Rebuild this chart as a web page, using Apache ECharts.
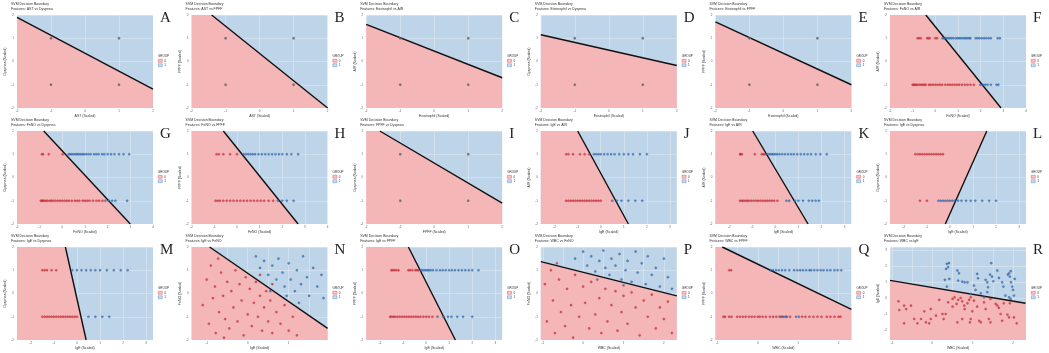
<!DOCTYPE html>
<html>
<head>
<meta charset="utf-8">
<script src="https://cdn.jsdelivr.net/npm/echarts@6/dist/echarts.min.js"></script>
<style>
  html, body { margin: 0; padding: 0; background: #fff; }
  #chart { width: 1049px; height: 353px; }
</style>
</head>
<body>
<div id="chart"></div>
<script>
// panel letters and feature pairs (x vs y)
const LETTERS = ['A','B','C','D','E','F','G','H','I','J','K','L','M','N','O','P','Q','R']
const X_FEATURES = ['AST','AST','Eosinophil','Eosinophil','Eosinophil','FeNO','FeNO','FeNO','FPFF','IgE','IgE','IgE','IgE','IgE','IgE','WBC','WBC','WBC']
const Y_FEATURES = ['Dyspnea','FPFF','AIR','Dyspnea','FPFF','AIR','Dyspnea','FPFF','Dyspnea','AIR','AIR','Dyspnea','Dyspnea','FeNO','FPFF','FeNO','FPFF','IgE']

// axis ranges + tick labels
const BIN_RANGE = [-2, 2]
const BIN_TICKS = [-2, -1, 0, 1, 2]
const FENO_RANGE = [-2, 4]
const FENO_TICKS = [-2, -1, 0, 1, 2, 3, 4]
const IGE_RANGE = [-2.6, 3.3]
const IGE_TICKS = [-2, -1, 0, 1, 2, 3]
const IGE_N_RANGE = [-1.37, 1.95]
const WBC_RANGE = [-1.05, 2.32]
const WBC_TICKS = [-1, 0, 1, 2]
const IGE_Y_RANGE = [-2.6, 3.2]

// binary x binary panels: same four points
const BIN_POINTS = [[-1, 1], [1, 1], [-1, -1], [1, -1]]

// decision boundary endpoints
const A_line = [[-2, 1.9], [2, -1.19]]
const B_line = [[-1.41, 2], [2, -2]]
const C_line = [[-2, 1.6], [2, -0.7]]
const D_line = [[-2, 1.15], [2, -0.17]]
const E_line = [[-2, 1.7], [2, -1.0]]
const F_line = [[-0.42, 2], [2.9, -2]]
const G_line = [[-0.82, 2], [3.0, -2]]
const H_line = [[-0.6, 2], [2.7, -2]]
const I_line = [[-1.6, 2], [2, -1.1]]
const J_line = [[-1.0, 2], [1.2, -2]]
const K_line = [[-0.98, 2], [1.42, -2]]
const L_line = [[-0.2, -2], [1.6, 2]]
const M_line = [[-0.5, 2], [0.4, -2]]
const N_line = [[-0.93, 2], [1.95, -1.5]]
const O_line = [[-0.77, 2], [1.27, -2]]
const P_line = [[-1.05, 1.37], [2.32, -0.1]]
const Q_line = [[-0.88, 2], [2.32, -0.68]]
const R_line = [[-1.05, 1.12], [2.31, -0.31]]

// two-row panels: x values per row (top = +1, bottom = -1), group 0 / group 1
const F_top_0 = [-0.78, -0.72, -0.64, -0.36, -0.3, -0.25, 0.0, 0.08]
const F_top_1 = [0.32, 0.38, 0.45, 0.5, 0.58, 0.65, 0.72, 0.8, 0.9, 0.98, 1.05, 1.12, 1.2, 1.28, 1.35, 1.42, 1.5, 1.55, 1.78, 1.86, 1.95, 2.05, 2.15, 2.25, 2.35, 2.45, 2.75, 2.85]
const F_bot_0 = [-1.0, -0.95, -0.9, -0.84, -0.78, -0.7, -0.62, -0.55, -0.48, -0.42, -0.28, -0.2, -0.1, 0.0, 0.1, 0.2, 0.3, 0.44, 0.55, 0.65, 0.75, 0.85, 0.95, 1.05, 1.17, 1.3, 1.42, 1.55, 1.7]
const F_bot_1 = [1.99, 2.1, 2.2, 2.3, 2.45, 2.7, 2.78]

const G_top_0 = [-0.9, -0.85, -0.6, 0.01]
const G_top_1 = [0.28, 0.35, 0.42, 0.5, 0.58, 0.65, 0.72, 0.8, 0.88, 0.95, 1.05, 1.15, 1.25, 1.4, 1.5, 1.6, 1.75, 1.85, 2.0, 2.15, 2.3, 2.5, 2.7, 2.95]
const G_bot_0 = [-0.95, -0.9, -0.85, -0.8, -0.72, -0.65, -0.55, -0.48, -0.4, -0.3, -0.2, -0.1, 0.0, 0.1, 0.2, 0.3, 0.42, 0.55, 0.65, 0.75, 0.9, 1.0, 1.1, 1.2, 1.35, 1.5, 1.62, 1.77]
const G_bot_1 = [1.9, 2.05, 2.2, 2.34, 2.86]

const H_top_0 = [-0.9, -0.8, -0.6, -0.3, 0.0]
const H_top_1 = [0.3, 0.4, 0.5, 0.6, 0.7, 0.8, 0.95, 1.1, 1.25, 1.4, 1.55, 1.7, 1.85, 2.0, 2.2, 2.4, 2.7]
const H_bot_0 = [-0.95, -0.85, -0.75, -0.6, -0.45, -0.3, -0.15, 0.0, 0.15, 0.3, 0.45, 0.6, 0.75, 0.9, 1.05, 1.2, 1.4, 1.6]
const H_bot_1 = [1.8, 2.0, 2.2, 2.5]

const J_top_0 = [-1.5, -1.4, -1.2, -0.9, -0.7, -0.5]
const J_top_1 = [-0.3, -0.2, -0.1, 0.0, 0.15, 0.3, 0.45, 0.6, 0.8, 1.0, 1.2, 1.4, 1.7, 2.0]
const J_bot_0 = [-1.5, -1.4, -1.3, -1.2, -1.1, -1.0, -0.9, -0.8, -0.7, -0.6, -0.5, -0.4, -0.3, -0.2, -0.1, 0.0]
const J_bot_1 = [0.5, 0.7, 0.9, 1.2, 1.5, 1.8]

const K_top_0 = [-1.53, -1.5, -1.45, -0.89, -0.59, -0.52, -0.46]
const K_top_1 = [-0.38, -0.3, -0.22, -0.15, -0.08, 0.0, 0.08, 0.18, 0.3, 0.42, 0.55, 0.68, 0.8, 0.95, 1.1, 1.25, 1.4, 1.55, 1.75, 1.95, 2.23]
const K_bot_0 = [-1.53, -1.45, -1.38, -1.3, -1.22, -1.15, -1.05, -0.95, -0.85, -0.75, -0.65, -0.55, -0.45, -0.35, -0.25, -0.15, -0.05, 0.09]
const K_bot_1 = [0.48, 0.6, 0.85, 1.0, 1.2, 1.45, 1.6, 1.75, 1.89]

const L_top_0 = [-1.5, -1.4, -1.3, -1.2, -1.1, -1.0, -0.9, -0.8, -0.7, -0.6, -0.5, -0.4, -0.3]
const L_top_1 = []
const L_bot_0 = [-1.3, -1.0]
const L_bot_1 = [-0.5, -0.4, -0.3, -0.2, -0.1, 0.0, 0.1, 0.2, 0.35, 0.5, 0.7, 0.9, 1.1, 1.4, 1.7, 2.0]

const M_top_0 = [-1.5, -1.4, -1.3, -1.1, -0.9]
const M_top_1 = [-0.2, 0.0, 0.2, 0.4, 0.6, 0.8, 1.0, 1.3, 1.6, 1.9, 2.2]
const M_bot_0 = [-1.5, -1.4, -1.3, -1.2, -1.1, -1.0, -0.9, -0.8, -0.7, -0.6, -0.5, -0.4, -0.3, -0.2, -0.1, 0.0]
const M_bot_1 = [0.5, 0.8, 1.1, 1.4]

const O_top_0 = [-1.51, -1.45, -1.38, -1.3, -1.2, -0.77, -0.7, -0.6, -0.47, -0.4, -0.34]
const O_top_1 = [-0.25, -0.18, -0.1, -0.02, 0.05, 0.12, 0.2, 0.3, 0.45, 0.6, 0.72, 0.85, 1.0, 1.12, 1.25, 1.4, 1.55, 1.7, 1.85, 2.0, 2.27]
const O_bot_0 = [-1.56, -1.5, -1.42, -1.35, -1.25, -1.15, -1.05, -0.95, -0.85, -0.75, -0.65, -0.55, -0.45, -0.35, -0.25, -0.12, 0.0, 0.12, 0.27]
const O_bot_1 = [0.49, 0.75, 0.95, 1.1, 1.35, 1.6, 2.0]

const Q_top_0 = [-0.71, -0.66]
const Q_top_1 = [0.32, 0.38, 0.45, 0.52, 0.6, 0.68, 0.78, 0.9, 0.98, 1.05, 1.12, 1.2, 1.28, 1.32, 1.4, 1.48, 1.56, 1.63, 1.72, 1.8, 1.9, 1.98, 2.07]
const Q_bot_0 = [-0.85, -0.81, -0.71, -0.65, -0.51, -0.44, -0.37, -0.3, -0.22, -0.15, -0.08, 0.0, 0.05, 0.12, 0.2, 0.3, 0.38, 0.46, 0.54, 0.61, 0.7, 0.8, 1.1, 1.18, 1.28, 1.38, 1.48, 1.58, 1.71, 1.8, 1.9, 2.0, 2.05]
const Q_bot_1 = [0.58, 0.65, 0.72, 0.95, 1.02]

// continuous x continuous panels: [x, y]
const N_0 = [[-1.1, -0.5], [-1.0, 0.6], [-0.95, -1.3], [-0.9, 1.2], [-0.85, -0.2], [-0.8, 0.3], [-0.78, -1.7], [-0.7, -0.8], [-0.65, 0.9], [-0.6, -0.1], [-0.55, -1.1], [-0.5, 0.5], [-0.45, -1.5], [-0.4, 0.1], [-0.35, -0.6], [-0.3, 1.0], [-0.25, -1.2], [-0.2, 0.4], [-0.15, -0.3], [-0.1, -1.8], [-0.05, 0.7], [0.0, -0.9], [0.05, 0.2], [0.1, -1.4], [0.15, -0.4], [0.2, 0.5], [0.25, -1.0], [0.3, -0.1], [0.35, -1.6], [0.4, -0.6], [0.45, 0.1], [0.5, -1.2], [0.55, -0.3], [0.6, -1.7], [0.7, -0.8], [0.8, -1.3], [0.9, -0.5], [1.0, -1.6], [1.1, -1.0], [1.2, -1.8], [-0.72, 1.5], [-0.58, -1.9], [0.3, 0.8], [0.6, 0.4]]
const N_1 = [[0.2, 1.6], [0.3, 1.1], [0.4, 1.4], [0.5, 0.8], [0.6, 1.2], [0.7, 0.6], [0.75, 1.5], [0.85, 0.9], [0.9, 0.3], [1.0, 1.3], [1.05, 0.6], [1.15, 0.1], [1.2, 1.0], [1.3, 0.4], [1.35, 1.6], [1.45, 0.7], [1.5, -0.1], [1.6, 1.1], [1.7, 0.3], [1.8, 0.8], [1.85, -0.2], [0.95, -0.1], [0.55, 0.1], [1.25, -0.4]]
const P_0 = [[-0.95, 0.4], [-0.9, -1.2], [-0.8, 1.0], [-0.75, -0.3], [-0.7, -1.7], [-0.6, 0.6], [-0.55, -0.8], [-0.45, -1.4], [-0.4, 0.2], [-0.3, -0.5], [-0.25, -1.9], [-0.2, 0.8], [-0.1, -1.0], [0.0, 0.3], [0.05, -0.4], [0.15, -1.5], [0.2, 0.5], [0.3, -0.9], [0.4, -0.2], [0.45, -1.7], [0.55, 0.2], [0.6, -1.2], [0.7, -0.5], [0.8, 0.1], [0.85, -1.6], [0.95, -0.8], [1.0, -0.1], [1.1, -1.3], [1.2, 0.05], [1.3, -0.6], [1.4, -1.8], [1.5, -0.3], [1.6, -1.0], [1.7, -0.05], [1.8, -1.5], [1.9, -0.6], [2.0, -1.1], [2.1, -0.35], [2.2, -1.7], [-0.65, 1.3]]
const P_1 = [[-0.2, 1.5], [0.0, 1.8], [0.1, 1.2], [0.2, 1.6], [0.3, 0.95], [0.4, 1.4], [0.5, 1.85], [0.55, 1.1], [0.65, 0.8], [0.7, 1.5], [0.8, 1.2], [0.9, 1.7], [0.95, 0.6], [1.05, 1.0], [1.1, 1.4], [1.2, 0.5], [1.3, 1.8], [1.35, 0.9], [1.45, 1.3], [1.55, 0.4], [1.6, 1.6], [1.7, 0.8], [1.8, 1.1], [1.9, 0.3], [2.0, 1.5], [2.1, 0.7], [2.2, 0.2], [1.0, 0.35], [0.35, 0.6]]
const R_0 = [[-0.84, -0.19], [-0.7, -0.46], [-0.53, -0.46], [-0.65, -0.67], [-0.82, -0.73], [-0.45, -1.29], [-0.28, -1.29], [-0.2, -0.81], [-0.04, -0.67], [-0.04, -1.29], [-0.08, -1.56], [-0.7, -1.56], [-0.37, -1.56], [-0.16, -1.5], [0.17, -0.1], [0.25, -0.98], [0.28, -1.29], [0.39, -0.25], [0.5, -0.04], [0.55, 0.06], [0.64, -0.1], [0.6, -0.35], [0.7, 0.02], [0.74, -0.19], [0.5, -0.52], [0.79, -0.46], [0.8, -0.67], [0.87, -0.31], [0.91, -0.1], [0.95, 0.06], [0.99, -0.81], [0.95, -1.29], [0.93, -1.5], [1.11, -0.52], [1.16, -1.4], [1.2, -1.5], [1.32, -0.67], [1.4, -1.29], [1.44, -1.5], [1.57, -0.35], [1.61, -0.46], [1.69, -0.98], [1.77, -0.31], [1.86, -1.02], [1.9, -1.19], [1.92, -0.31], [2.02, -1.19], [2.09, -1.56], [0.62, -1.5], [0.33, -0.98], [0.74, -1.29], [0.09, -1.08], [1.03, -0.15], [1.28, -0.25], [1.44, -0.04], [1.65, -0.6], [1.73, -1.4]]
const R_1 = [[0.36, 2.15], [0.39, 1.94], [0.34, 1.83], [0.41, 2.19], [0.62, 1.73], [0.66, 1.56], [0.31, 1.15], [0.42, 1.21], [0.64, 1.1], [0.74, 1.04], [0.8, 1.0], [0.87, 1.0], [1.11, 1.52], [1.13, 1.25], [1.03, 0.79], [1.07, 0.52], [0.36, 0.73], [1.32, 1.15], [1.36, 1.0], [1.38, 0.69], [1.43, 1.48], [1.46, 2.19], [1.48, 1.35], [1.51, 1.06], [1.61, 1.73], [1.65, 1.27], [1.73, 1.0], [1.76, 0.73], [1.81, 0.17], [1.87, 1.48], [1.9, 1.56], [1.92, 1.35], [1.94, 1.69], [1.95, 1.0], [1.98, 0.73], [2.0, 0.52], [2.04, 1.21], [2.02, 0.17], [1.9, 0.06], [1.2, 0.31], [1.36, 0.38], [0.95, 0.27], [1.28, 0.06], [1.94, -0.04]]

const RED_FILL = '#f5b6b8'
const BLUE_FILL = '#bed4e9'
const RED_PT = '#e03a44'
const BLUE_PT = '#3b79c2'
const PW = 174.6
const ROW_TOP = [15, 131, 247]

const rowPts = (xs, y) => xs.map(x => [x, y])
const twoRow = (t0, t1, b0, b1) => [rowPts(t0, 1).concat(rowPts(b0, -1)), rowPts(t1, 1).concat(rowPts(b1, -1))]

const PANELS = [
  { line: A_line, x: [BIN_RANGE, BIN_TICKS], y: [BIN_RANGE, BIN_TICKS], bin: true },
  { line: B_line, x: [BIN_RANGE, BIN_TICKS], y: [BIN_RANGE, BIN_TICKS], bin: true },
  { line: C_line, x: [BIN_RANGE, BIN_TICKS], y: [BIN_RANGE, BIN_TICKS], bin: true },
  { line: D_line, x: [BIN_RANGE, BIN_TICKS], y: [BIN_RANGE, BIN_TICKS], bin: true },
  { line: E_line, x: [BIN_RANGE, BIN_TICKS], y: [BIN_RANGE, BIN_TICKS], bin: true },
  { line: F_line, x: [FENO_RANGE, FENO_TICKS], y: [BIN_RANGE, BIN_TICKS], pts: twoRow(F_top_0, F_top_1, F_bot_0, F_bot_1) },
  { line: G_line, x: [FENO_RANGE, FENO_TICKS], y: [BIN_RANGE, BIN_TICKS], pts: twoRow(G_top_0, G_top_1, G_bot_0, G_bot_1) },
  { line: H_line, x: [FENO_RANGE, FENO_TICKS], y: [BIN_RANGE, BIN_TICKS], pts: twoRow(H_top_0, H_top_1, H_bot_0, H_bot_1) },
  { line: I_line, x: [BIN_RANGE, BIN_TICKS], y: [BIN_RANGE, BIN_TICKS], bin: true },
  { line: J_line, x: [IGE_RANGE, IGE_TICKS], y: [BIN_RANGE, BIN_TICKS], pts: twoRow(J_top_0, J_top_1, J_bot_0, J_bot_1) },
  { line: K_line, x: [IGE_RANGE, IGE_TICKS], y: [BIN_RANGE, BIN_TICKS], pts: twoRow(K_top_0, K_top_1, K_bot_0, K_bot_1) },
  { line: L_line, x: [IGE_RANGE, IGE_TICKS], y: [BIN_RANGE, BIN_TICKS], pts: twoRow(L_top_0, L_top_1, L_bot_0, L_bot_1), redUpper: true },
  { line: M_line, x: [IGE_RANGE, IGE_TICKS], y: [BIN_RANGE, BIN_TICKS], pts: twoRow(M_top_0, M_top_1, M_bot_0, M_bot_1) },
  { line: N_line, x: [IGE_N_RANGE, WBC_TICKS], y: [BIN_RANGE, BIN_TICKS], pts: [N_0, N_1] },
  { line: O_line, x: [IGE_RANGE, IGE_TICKS], y: [BIN_RANGE, BIN_TICKS], pts: twoRow(O_top_0, O_top_1, O_bot_0, O_bot_1) },
  { line: P_line, x: [WBC_RANGE, WBC_TICKS], y: [BIN_RANGE, BIN_TICKS], pts: [P_0, P_1] },
  { line: Q_line, x: [WBC_RANGE, WBC_TICKS], y: [BIN_RANGE, BIN_TICKS], pts: twoRow(Q_top_0, Q_top_1, Q_bot_0, Q_bot_1) },
  { line: R_line, x: [WBC_RANGE, WBC_TICKS], y: [IGE_Y_RANGE, IGE_TICKS], pts: [R_0, R_1] },
]

// clip the red half-plane to the axis box (Sutherland-Hodgman, one edge)
function redPolygon(line, xr, yr, redUpper) {
  const [[x1, y1], [x2, y2]] = line
  const side = (p) => (x2 - x1) * (p[1] - y1) - (y2 - y1) * (p[0] - x1)
  const ref = redUpper ? [xr[0], yr[1]] : [xr[0], yr[0]]
  const sgn = Math.sign(side(ref))
  const box = [[xr[0], yr[0]], [xr[1], yr[0]], [xr[1], yr[1]], [xr[0], yr[1]]]
  const out = []
  for (let i = 0; i < box.length; i++) {
    const a = box[i], b = box[(i + 1) % box.length]
    const sa = side(a) * sgn, sb = side(b) * sgn
    if (sa >= 0) out.push(a)
    if ((sa >= 0) !== (sb >= 0)) {
      const t = sa / (sa - sb)
      out.push([a[0] + t * (b[0] - a[0]), a[1] + t * (b[1] - a[1])])
    }
  }
  return out
}

const chart = echarts.init(document.getElementById('chart'), null, { renderer: 'canvas' })

const grid = [], xAxis = [], yAxis = [], series = [], title = [], legend = []
const axisBase = {
  type: 'value',
  nameLocation: 'middle',
  nameTextStyle: { fontSize: 3.5, color: '#333', fontFamily: 'Liberation Sans' },
  axisLine: { show: false },
  axisTick: { show: false },
  splitLine: { show: true, lineStyle: { color: 'rgba(255,255,255,0.55)', width: 0.5 } },
}

PANELS.forEach((p, i) => {
  const col = i % 6, row = Math.floor(i / 6)
  const left = 17 + col * PW
  const top = ROW_TOP[row]
  const xr = p.x[0], yr = p.y[0]

  grid.push({ left, top, width: 136, height: 93, show: true, backgroundColor: BLUE_FILL, borderWidth: 0 })
  xAxis.push({
    ...axisBase, gridIndex: i, min: xr[0], max: xr[1], name: X_FEATURES[i] + ' (Scaled)', nameGap: 6,
    axisLabel: { fontSize: 3, color: '#666', margin: 2, customValues: p.x[1] },
  })
  yAxis.push({
    ...axisBase, gridIndex: i, min: yr[0], max: yr[1], name: Y_FEATURES[i] + ' (Scaled)', nameGap: 9,
    axisLabel: { fontSize: 3, color: '#666', margin: 3, customValues: p.y[1] },
  })

  const poly = redPolygon(p.line, xr, yr, p.redUpper)
  series.push({
    type: 'custom', xAxisIndex: i, yAxisIndex: i, silent: true, z: 1,
    data: poly,
    renderItem: (params, api) => {
      if (params.dataIndex !== 0) return
      return { type: 'polygon', shape: { points: poly.map(v => api.coord(v)) }, style: { fill: RED_FILL } }
    },
  })
  series.push({
    type: 'line', xAxisIndex: i, yAxisIndex: i, data: p.line, symbol: 'none', silent: true, z: 3,
    lineStyle: { color: '#111', width: 1.4 },
  })

  if (p.bin) {
    series.push({
      type: 'scatter', name: '0', xAxisIndex: i, yAxisIndex: i, data: BIN_POINTS, symbolSize: 2.4, z: 4,
      itemStyle: { color: '#555a60', borderColor: '#888', borderWidth: 0.3 },
    })
  } else {
    series.push({
      type: 'scatter', name: '0', xAxisIndex: i, yAxisIndex: i, data: p.pts[0], symbolSize: 2.2, z: 4,
      itemStyle: { color: RED_PT, borderColor: '#7a1a20', borderWidth: 0.3 },
    })
    series.push({
      type: 'scatter', name: '1', xAxisIndex: i, yAxisIndex: i, data: p.pts[1], symbolSize: 2.2, z: 4,
      itemStyle: { color: BLUE_PT, borderColor: '#1a3d6a', borderWidth: 0.3 },
    })
  }

  title.push({
    text: 'SVM Decision Boundary', subtext: 'Features: ' + X_FEATURES[i] + ' vs ' + Y_FEATURES[i],
    left: left - 6, top: top - 13, padding: 0, itemGap: 1,
    textStyle: { fontSize: 3.5, fontWeight: 'normal', color: '#333', fontFamily: 'Liberation Sans' },
    subtextStyle: { fontSize: 3.5, color: '#333', fontFamily: 'Liberation Sans' },
  })
  title.push({
    text: LETTERS[i], left: left + 143, top: top - 4, padding: 0,
    textStyle: { fontSize: 15, fontWeight: 'normal', color: '#222', fontFamily: 'Liberation Serif' },
  })
  title.push({
    text: 'GROUP', left: left + 141, top: top + 40, padding: 0,
    textStyle: { fontSize: 3, fontWeight: 'normal', color: '#333', fontFamily: 'Liberation Sans' },
  })
  legend.push({
    data: [{ name: '0', itemStyle: { color: RED_FILL, borderColor: RED_PT, borderWidth: 0.5 } },
           { name: '1', itemStyle: { color: BLUE_FILL, borderColor: BLUE_PT, borderWidth: 0.5 } }],
    orient: 'vertical', left: left + 141, top: top + 44, padding: 0, itemGap: 1,
    itemWidth: 4, itemHeight: 3, icon: 'rect', selectedMode: false,
    textStyle: { fontSize: 3, color: '#333', padding: [0, 0, 0, -3] },
  })
})

chart.setOption({
  backgroundColor: '#fff',
  animation: false,
  title,
  legend,
  grid,
  xAxis,
  yAxis,
  series,
})
</script>
</body>
</html>
